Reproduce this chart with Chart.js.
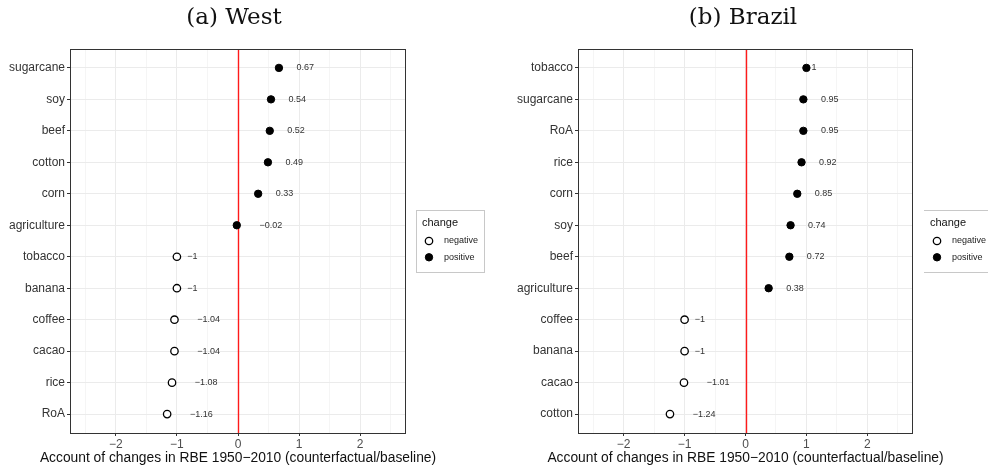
<!DOCTYPE html>
<html>
<head>
<meta charset="utf-8">
<script src="https://cdn.jsdelivr.net/npm/chart.js@4/dist/chart.umd.min.js"></script>
<style>
  html, body { margin: 0; padding: 0; background: #fff; }
  body { position: relative; width: 988px; height: 469px; overflow: hidden; }
  .panel { position: absolute; top: 0; width: 494px; height: 469px; }
  .panel canvas { display: block; }
  .title {
    position: absolute; top: 5px; line-height: 23px;
    font-family: "DejaVu Serif", serif; font-size: 23px; color: #111;
    white-space: nowrap; transform: translateX(-50%);
  }
</style>
</head>
<body>
<div class="panel" style="left:0"><canvas id="west" width="494" height="469"></canvas></div>
<div class="panel" style="left:494px"><canvas id="brazil" width="494" height="469"></canvas></div>
<div class="title" style="left:234px">(a) West</div>
<div class="title" style="left:743px">(b) Brazil</div>

<script>
// ---- West: crops, change ratio and sign group (top to bottom) ----
const westCrops  = ['sugarcane', 'soy', 'beef', 'cotton', 'corn', 'agriculture',
                    'tobacco', 'banana', 'coffee', 'cacao', 'rice', 'RoA'];
const westValues = [0.67, 0.54, 0.52, 0.49, 0.33, -0.02,
                    -1, -1, -1.04, -1.04, -1.08, -1.16];
const westChange = ['positive', 'positive', 'positive', 'positive', 'positive', 'positive',
                    'negative', 'negative', 'negative', 'negative', 'negative', 'negative'];

// ---- Brazil ----
const brazilCrops  = ['tobacco', 'sugarcane', 'RoA', 'rice', 'corn', 'soy',
                      'beef', 'agriculture', 'coffee', 'banana', 'cacao', 'cotton'];
const brazilValues = [1, 0.95, 0.95, 0.92, 0.85, 0.74,
                      0.72, 0.38, -1, -1, -1.01, -1.24];
const brazilChange = ['positive', 'positive', 'positive', 'positive', 'positive', 'positive',
                      'positive', 'positive', 'negative', 'negative', 'negative', 'negative'];

// ---- shared axis settings ----
const xTickValues = [-2.5, -2, -1.5, -1, -0.5, 0, 0.5, 1, 1.5, 2, 2.5];
const xRange = [-2.75, 2.75];
const groups = ['negative', 'positive'];
const xTitle = 'Account of changes in RBE 1950\u22122010 (counterfactual/baseline)';

Chart.defaults.font.family = '"Liberation Sans", Arial, sans-serif';
Chart.defaults.color = '#333';

const fmt = v => String(v).replace('-', '\u2212');
const isMajor = v => Math.abs(v - Math.round(v)) < 1e-9;

const groupStyle = {
  negative: { backgroundColor: '#ffffff', borderColor: '#000000', borderWidth: 1.3, pointRadius: 3.7 },
  positive: { backgroundColor: '#000000', borderColor: '#000000', borderWidth: 1, pointRadius: 3.7 }
};

// red reference line at x = 0, under the points
const zeroLine = {
  id: 'zeroLine',
  beforeDatasetsDraw(chart) {
    const { ctx, chartArea: a, scales: { x } } = chart;
    const px = Math.round(x.getPixelForValue(0)) + 0.5;
    ctx.save();
    ctx.strokeStyle = '#ff1a1a';
    ctx.lineWidth = 1.4;
    ctx.beginPath();
    ctx.moveTo(px, a.top);
    ctx.lineTo(px, a.bottom);
    ctx.stroke();
    ctx.restore();
  }
};

// value text to the right of each point (offset by its own width)
const valueLabels = {
  id: 'valueLabels',
  afterDatasetsDraw(chart) {
    const { ctx } = chart;
    ctx.save();
    ctx.font = '9px "Liberation Sans", Arial, sans-serif';
    ctx.fillStyle = '#333';
    ctx.textBaseline = 'middle';
    ctx.textAlign = 'left';
    chart.data.datasets.forEach((ds, di) => {
      const meta = chart.getDatasetMeta(di);
      ds.data.forEach((d, i) => {
        const el = meta.data[i];
        const txt = fmt(d.x);
        const w = ctx.measureText(txt).width;
        ctx.fillText(txt, el.x + w, el.y);
      });
    });
    ctx.restore();
  }
};

// panel border and x-axis title (title may run wider than the panel)
const frame = {
  id: 'frame',
  afterDraw(chart) {
    const { ctx, chartArea: a } = chart;
    ctx.save();
    ctx.strokeStyle = '#333';
    ctx.lineWidth = 1;
    ctx.strokeRect(Math.round(a.left) + 0.5, Math.round(a.top) + 0.5,
                   Math.round(a.right - a.left) - 1, Math.round(a.bottom - a.top));
    ctx.fillStyle = '#111';
    ctx.font = '13.8px "Liberation Sans", Arial, sans-serif';
    ctx.textAlign = 'center';
    ctx.textBaseline = 'middle';
    ctx.fillText(xTitle, (a.left + a.right) / 2, 458);
    ctx.restore();
  }
};

// "change" key drawn beside the panel
const changeLegend = {
  id: 'changeLegend',
  afterDraw(chart, args, o) {
    const { ctx } = chart;
    ctx.save();
    ctx.strokeStyle = '#c8c8c8';
    ctx.lineWidth = 1;
    if (o.boxed) {
      ctx.strokeRect(o.x + 0.5, o.y + 0.5, o.w, o.h);
    } else {
      ctx.beginPath();
      ctx.moveTo(o.x, o.y + 0.5); ctx.lineTo(o.x + o.w, o.y + 0.5);
      ctx.moveTo(o.x, o.y + o.h + 0.5); ctx.lineTo(o.x + o.w, o.y + o.h + 0.5);
      ctx.stroke();
    }
    ctx.fillStyle = '#111';
    ctx.textBaseline = 'middle';
    ctx.textAlign = 'left';
    ctx.font = '11px "Liberation Sans", Arial, sans-serif';
    ctx.fillText('change', o.x + 6, o.y + 12.5);
    ctx.font = '9px "Liberation Sans", Arial, sans-serif';
    chart.data.datasets.forEach((ds, i) => {
      const cy = o.y + 31 + i * 16.3;
      const cx = o.x + 13;
      ctx.beginPath();
      ctx.arc(cx, cy, ds.pointRadius, 0, Math.PI * 2);
      ctx.fillStyle = ds.backgroundColor;
      ctx.fill();
      ctx.lineWidth = ds.borderWidth;
      ctx.strokeStyle = ds.borderColor;
      ctx.stroke();
      ctx.fillStyle = '#222';
      ctx.fillText(ds.label, o.x + 28, cy);
    });
    ctx.restore();
  }
};

function dotChart(canvasId, crops, values, change, axisWidth, padRight, legendOpts) {
  const datasets = groups.map(g => Object.assign({
    label: g,
    data: values.map((v, i) => ({ x: v, y: i })).filter((d, i) => change[i] === g)
  }, groupStyle[g]));

  return new Chart(document.getElementById(canvasId), {
    type: 'scatter',
    data: { datasets },
    plugins: [zeroLine, valueLabels, frame, changeLegend],
    options: {
      responsive: false,
      animation: false,
      devicePixelRatio: 1,
      layout: { padding: { top: 49, right: padRight, left: 0, bottom: 0 } },
      plugins: {
        legend: { display: false },
        tooltip: { enabled: false },
        changeLegend: legendOpts
      },
      scales: {
        x: {
          type: 'linear',
          min: xRange[0], max: xRange[1],
          afterBuildTicks: s => { s.ticks = xTickValues.map(value => ({ value })); },
          afterFit: s => { s.height = 36; },
          border: { display: false },
          grid: {
            color: '#ebebeb',
            lineWidth: c => (c.tick && isMajor(c.tick.value)) ? 1 : 0.5,
            tickLength: 3,
            tickColor: c => (c.tick && isMajor(c.tick.value)) ? '#333' : 'rgba(0,0,0,0)'
          },
          ticks: {
            autoSkip: false, maxRotation: 0, padding: 1,
            font: { size: 12 }, color: '#4d4d4d',
            callback: v => isMajor(v) ? fmt(Math.round(v)) : ''
          },
          title: { display: false }
        },
        y: {
          type: 'linear',
          min: -0.6, max: crops.length - 0.4,
          reverse: true,
          afterBuildTicks: s => { s.ticks = crops.map((c, i) => ({ value: i })); },
          afterFit: s => { s.width = axisWidth; },
          border: { display: false },
          grid: { color: '#ebebeb', lineWidth: 1, tickLength: 3, tickColor: '#333' },
          ticks: {
            autoSkip: false, padding: 2,
            font: { size: 12 }, color: '#333',
            callback: v => crops[v]
          }
        }
      }
    }
  });
}

dotChart('west', westCrops, westValues, westChange, 70, 88,
         { boxed: true, x: 416, y: 210, w: 68, h: 62 });
dotChart('brazil', brazilCrops, brazilValues, brazilChange, 84, 75,
         { boxed: false, x: 430, y: 210, w: 64, h: 62 });
</script>
</body>
</html>
